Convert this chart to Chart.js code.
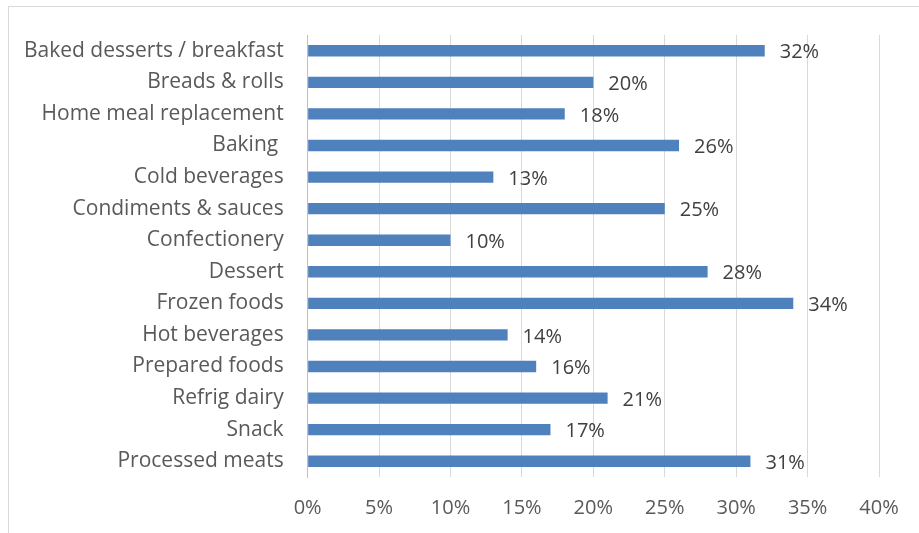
<!DOCTYPE html>
<html>
<head>
<meta charset="utf-8">
<script src="https://cdn.jsdelivr.net/npm/chart.js@4/dist/chart.umd.min.js"></script>
<style>
  html, body { margin: 0; padding: 0; background: #fff; overflow: hidden; }
  #frame {
    position: absolute; left: 8px; top: 6px; width: 930px; height: 560px;
    border: 1px solid #d9d9d9; box-sizing: border-box;
  }
  #wrap { position: absolute; left: 0; top: 0; width: 919px; height: 539px; }
</style>
</head>
<body>
<div id="frame"></div>
<div id="wrap"><canvas id="chart"></canvas></div>
<script>
// Share of products by category
const categories = [
    'Baked desserts / breakfast', 'Breads & rolls', 'Home meal replacement', 'Baking ',
    'Cold beverages', 'Condiments & sauces', 'Confectionery', 'Dessert', 'Frozen foods',
    'Hot beverages', 'Prepared foods', 'Refrig dairy', 'Snack', 'Processed meats'
];
const shares = [32, 20, 18, 26, 13, 25, 10, 28, 34, 14, 16, 21, 17, 31];
const xTicks = [0, 5, 10, 15, 20, 25, 30, 35, 40];

const fontFamily = '"Open Sans", sans-serif';

// Draws "NN%" just past the end of each bar
const valueLabels = {
    id: 'valueLabels',
    afterDatasetsDraw(chart) {
        const ctx = chart.ctx;
        const meta = chart.getDatasetMeta(0);
        ctx.save();
        ctx.font = '20px ' + fontFamily;
        ctx.fillStyle = '#404040';
        ctx.textAlign = 'left';
        ctx.textBaseline = 'middle';
        meta.data.forEach(function(bar, i) {
            ctx.fillText(shares[i] + '%', bar.x + 15, bar.y + 2);
        });
        ctx.restore();
    }
};

new Chart(document.getElementById('chart'), {
    type: 'bar',
    data: {
        labels: categories,
        datasets: [{
            data: shares,
            backgroundColor: '#4f81bd',
            categoryPercentage: 1,
            barPercentage: 0.36
        }]
    },
    options: {
        indexAxis: 'y',
        responsive: true,
        maintainAspectRatio: false,
        animation: false,
        layout: { padding: { left: 8, right: 40, top: 35, bottom: 0 } },
        plugins: {
            legend: { display: false },
            tooltip: { enabled: false }
        },
        scales: {
            x: {
                min: 0,
                max: 40,
                afterBuildTicks(axis) {
                    axis.ticks = xTicks.map(v => ({ value: v }));
                },
                grid: { color: '#d9d9d9', drawTicks: false },
                border: { display: false },
                ticks: {
                    padding: 19,
                    color: '#595959',
                    font: { family: fontFamily, size: 20 },
                    callback: v => v + '%'
                }
            },
            y: {
                grid: { display: false },
                border: { display: true, color: '#bfbfbf' },
                ticks: {
                    padding: 16,
                    color: '#595959',
                    font: { family: fontFamily, size: 21 }
                }
            }
        }
    },
    plugins: [valueLabels]
});
</script>
</body>
</html>
